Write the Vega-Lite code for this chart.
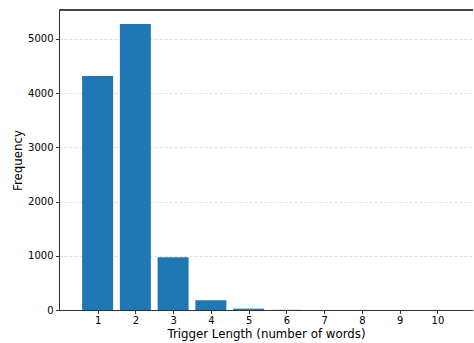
{
  "$schema": "https://vega.github.io/schema/vega-lite/v6.json",
  "autosize": "none",
  "width": 414,
  "height": 300,
  "padding": {"left": 59, "top": 10, "right": 1, "bottom": 33},
  "background": "white",
  "config": {
    "view": {"stroke": null},
    "font": "DejaVu Sans"
  },
  "data": {
    "values": [
      {"length": 1, "frequency": 4315},
      {"length": 2, "frequency": 5275},
      {"length": 3, "frequency": 975},
      {"length": 4, "frequency": 180},
      {"length": 5, "frequency": 25},
      {"length": 6, "frequency": 3},
      {"length": 7, "frequency": 1},
      {"length": 8, "frequency": 1},
      {"length": 9, "frequency": 0},
      {"length": 10, "frequency": 1}
    ]
  },
  "layer": [
    {
      "mark": {"type": "bar", "color": "#1f77b4", "width": 31},
      "encoding": {
        "x": {
          "field": "length",
          "type": "quantitative",
          "scale": {"domain": [0.11, 10.81], "nice": false, "zero": false},
          "axis": {
            "title": "Trigger Length (number of words)",
            "values": [1, 2, 3, 4, 5, 6, 7, 8, 9, 10],
            "format": "d",
            "grid": false,
            "domainColor": "#333333",
            "tickColor": "#333333",
            "tickSize": 3.5,
            "labelFontSize": 10,
            "labelColor": "#000000",
            "labelPadding": 2,
            "titleFontSize": 11.8,
            "titleFontWeight": "normal",
            "titleColor": "#000000",
            "titlePadding": 3
          }
        },
        "y": {
          "field": "frequency",
          "type": "quantitative",
          "scale": {"domain": [0, 5535], "nice": false},
          "axis": {
            "title": "Frequency",
            "values": [0, 1000, 2000, 3000, 4000, 5000],
            "format": "d",
            "grid": true,
            "gridDash": [3, 2],
            "gridColor": "#d9d9d9",
            "gridWidth": 0.8,
            "domainColor": "#333333",
            "tickColor": "#333333",
            "tickSize": 3.5,
            "labelFontSize": 10,
            "labelColor": "#000000",
            "labelPadding": 2.5,
            "titleFontSize": 11.8,
            "titleFontWeight": "normal",
            "titleColor": "#000000",
            "titlePadding": 4
          }
        }
      }
    },
    {
      "mark": {"type": "rule", "color": "#444444", "strokeWidth": 1},
      "encoding": {
        "y": {"datum": 5535, "type": "quantitative"}
      }
    }
  ]
}
